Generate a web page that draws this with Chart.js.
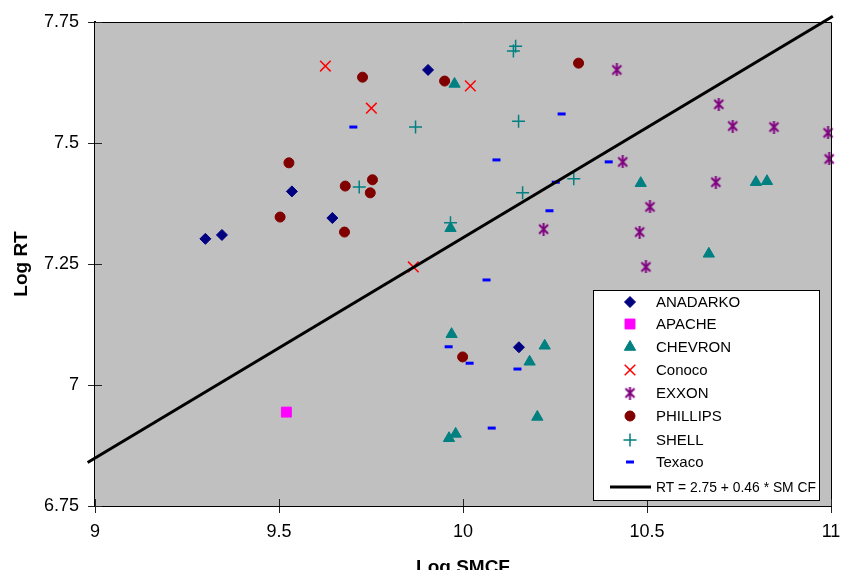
<!DOCTYPE html>
<html>
<head>
<meta charset="utf-8">
<script src="https://cdn.jsdelivr.net/npm/chart.js@4.4.1/dist/chart.umd.min.js"></script>
<style>
  html, body { margin: 0; padding: 0; background: #fff; }
  #wrap { width: 843px; height: 570px; }
</style>
</head>
<body>
<div id="wrap"><canvas id="myChart" width="843" height="570"></canvas></div>
<script>
// values (Log SMCF, Log RT)
const anadarkoX = [9.30, 9.345, 9.535, 9.645, 9.905, 10.152]
const anadarkoY = [7.302, 7.310, 7.400, 7.345, 7.651, 7.078]

const apacheX = [9.52]
const apacheY = [6.944]

const chevronX = [9.977, 9.966, 10.483, 10.796, 10.826, 10.668, 9.969, 9.962, 9.980, 10.222, 10.181, 10.202, 10.41]
const chevronY = [7.622, 7.324, 7.417, 7.419, 7.421, 7.271, 7.105, 6.890, 6.899, 7.081, 7.048, 6.934, 6.77]

const conocoX = [9.626, 9.751, 10.020, 9.865]
const conocoY = [7.659, 7.572, 7.618, 7.244]

const exxonX = [10.418, 10.434, 10.508, 10.480, 10.219, 10.695, 10.733, 10.845, 10.992, 10.995, 10.687, 10.497]
const exxonY = [7.651, 7.461, 7.368, 7.316, 7.322, 7.580, 7.535, 7.533, 7.521, 7.467, 7.419, 7.244]

const phillipsX = [9.527, 9.503, 9.727, 9.950, 9.680, 9.754, 9.748, 9.678, 10.314, 9.999]
const phillipsY = [7.459, 7.347, 7.636, 7.628, 7.411, 7.424, 7.397, 7.316, 7.665, 7.058]

const shellX = [9.871, 9.718, 9.966, 10.143, 10.137, 10.151, 10.162, 10.301]
const shellY = [7.533, 7.409, 7.335, 7.700, 7.690, 7.545, 7.397, 7.426]

const texacoX = [9.702, 10.268, 10.091, 10.396, 10.252, 10.235, 10.064, 10.148, 10.078, 10.018, 9.961]
const texacoY = [7.533, 7.560, 7.465, 7.461, 7.419, 7.360, 7.217, 7.033, 6.911, 7.045, 7.079]

// fitted line end points
const fitX = [8.98, 11.005]
const fitY = [6.84, 7.762]

const xTicks = [9, 9.5, 10, 10.5, 11]
const yTicks = [6.75, 7, 7.25, 7.5, 7.75]

const pts = (xs, ys) => xs.map((x, i) => ({ x: x, y: ys[i] }))

function asterisk(color) {
    const c = document.createElement('canvas')
    c.width = 13
    c.height = 13
    const g = c.getContext('2d')
    g.strokeStyle = color
    g.lineWidth = 2
    g.beginPath()
    g.moveTo(2, 2); g.lineTo(11, 11)
    g.moveTo(11, 2); g.lineTo(2, 11)
    g.moveTo(6.5, 0); g.lineTo(6.5, 13)
    g.stroke()
    return c
}
const star = asterisk('#800080')

function series(label, xs, ys, style, color, radius, extra) {
    return Object.assign({
        label: label,
        data: pts(xs, ys),
        pointStyle: style,
        pointRadius: radius,
        pointHoverRadius: radius,
        backgroundColor: color,
        borderColor: color,
        borderWidth: 1,
        clip: false
    }, extra || {})
}

const datasets = [
    {
        label: 'RT = 2.75 + 0.46 * SM CF',
        type: 'line',
        data: pts(fitX, fitY),
        borderColor: '#000',
        borderWidth: 3,
        pointRadius: 0,
        fill: false,
        clip: false
    },
    series('ANADARKO', anadarkoX, anadarkoY, 'rectRot', '#000080', 5.5),
    series('APACHE', apacheX, apacheY, 'rect', '#FF00FF', 7),
    series('CHEVRON', chevronX, chevronY, 'triangle', '#008080', 6.5),
    series('Conoco', conocoX, conocoY, 'crossRot', '#FF0000', 7.5, { borderWidth: 1.5 }),
    series('EXXON', exxonX, exxonY, star, '#800080', 6),
    series('PHILLIPS', phillipsX, phillipsY, 'circle', '#800000', 5),
    series('SHELL', shellX, shellY, 'cross', '#008080', 6.5, { borderWidth: 1.5 }),
    series('Texaco', texacoX, texacoY, 'line', '#0000FF', 4, { borderWidth: 3 })
]

const plotDecor = {
    id: 'plotDecor',
    beforeDatasetsDraw(chart) {
        const { ctx, chartArea: a } = chart
        ctx.save()
        ctx.fillStyle = '#C0C0C0'
        ctx.fillRect(a.left, a.top, a.right - a.left, a.bottom - a.top)
        ctx.restore()
    },
    afterDatasetsDraw(chart) {
        const { ctx, chartArea: a, scales } = chart
        ctx.save()
        // top and right frame
        ctx.strokeStyle = '#000'
        ctx.lineWidth = 1
        ctx.beginPath()
        ctx.moveTo(a.left, a.top + 0.5)
        ctx.lineTo(a.right + 0.5, a.top + 0.5)
        ctx.lineTo(a.right + 0.5, a.bottom)
        ctx.stroke()
        // inner halves of the tick marks
        ctx.strokeStyle = '#222'
        ctx.beginPath()
        xTicks.forEach(v => {
            const px = Math.round(scales.x.getPixelForValue(v)) + 0.5
            ctx.moveTo(px, a.bottom)
            ctx.lineTo(px, a.bottom - 7)
        })
        yTicks.forEach(v => {
            const py = Math.round(scales.y.getPixelForValue(v)) + 0.5
            ctx.moveTo(a.left, py)
            ctx.lineTo(a.left + 7, py)
        })
        ctx.stroke()

        // legend box inside the plot
        const bx = 593.5, by = 290.5, bw = 226, bh = 210
        ctx.fillStyle = '#fff'
        ctx.fillRect(bx, by, bw, bh)
        ctx.strokeStyle = '#000'
        ctx.lineWidth = 1
        ctx.strokeRect(bx, by, bw, bh)

        ctx.font = '15px "Liberation Sans", Arial, sans-serif'
        ctx.textBaseline = 'middle'
        ctx.textAlign = 'left'
        const rowY = [302, 324, 347, 370, 393, 416, 440, 462]
        chart.data.datasets.slice(1).forEach((ds, i) => {
            const y = rowY[i]
            ctx.fillStyle = ds.backgroundColor
            ctx.strokeStyle = ds.borderColor
            ctx.lineWidth = ds.borderWidth
            Chart.helpers.drawPoint(ctx, {
                pointStyle: ds.pointStyle,
                radius: ds.pointRadius,
                borderWidth: ds.borderWidth,
                rotation: 0
            }, 630, y)
            ctx.fillStyle = '#000'
            ctx.fillText(ds.label, 656, y + 1)
        })
        const ly = 487
        ctx.strokeStyle = '#000'
        ctx.lineWidth = 3
        ctx.beginPath()
        ctx.moveTo(610, ly)
        ctx.lineTo(651, ly)
        ctx.stroke()
        ctx.fillStyle = '#000'
        ctx.fillText(chart.data.datasets[0].label, 656, ly + 1, 160)
        ctx.restore()
    }
}

const fmt = v => String(+Number(v).toFixed(2))

const el = document.getElementById('myChart')
const myChart = new Chart(el, {
    type: 'scatter',
    data: { datasets: datasets },
    options: {
        responsive: false,
        animation: false,
        events: [],
        layout: { padding: { top: 22, right: 12, bottom: 0, left: 0 } },
        plugins: {
            legend: { display: false },
            tooltip: { enabled: false }
        },
        scales: {
            x: {
                type: 'linear',
                min: 9,
                max: 11,
                afterBuildTicks: s => { s.ticks = xTicks.map(v => ({ value: v })) },
                afterFit: s => {
                    s.height = 64
                    s.paddingLeft = 0
                    s.paddingRight = 0
                },
                ticks: {
                    callback: fmt,
                    color: '#000',
                    padding: 8,
                    maxRotation: 0,
                    font: { size: 18, family: '"Liberation Sans", Arial, sans-serif' }
                },
                grid: { drawOnChartArea: false, drawTicks: true, tickLength: 7, color: '#222' },
                border: { color: '#000', width: 2 },
                title: {
                    display: true,
                    text: 'Log SMCF',
                    color: '#000',
                    padding: { top: 0, bottom: -7 },
                    font: { size: 19, weight: 'bold', lineHeight: 1, family: '"Liberation Sans", Arial, sans-serif' }
                }
            },
            y: {
                type: 'linear',
                min: 6.75,
                max: 7.75,
                afterBuildTicks: s => { s.ticks = yTicks.map(v => ({ value: v })) },
                afterFit: s => {
                    s.width = 95
                    s.paddingTop = 0
                    s.paddingBottom = 0
                },
                ticks: {
                    callback: fmt,
                    color: '#000',
                    padding: 9,
                    font: { size: 18, family: '"Liberation Sans", Arial, sans-serif' }
                },
                grid: { drawOnChartArea: false, drawTicks: true, tickLength: 7, color: '#222' },
                border: { color: '#000', width: 2 },
                title: {
                    display: true,
                    text: 'Log RT',
                    color: '#000',
                    padding: { top: 12, bottom: 0 },
                    font: { size: 19, weight: 'bold', lineHeight: 1, family: '"Liberation Sans", Arial, sans-serif' }
                }
            }
        }
    },
    plugins: [plotDecor]
})
</script>
</body>
</html>
